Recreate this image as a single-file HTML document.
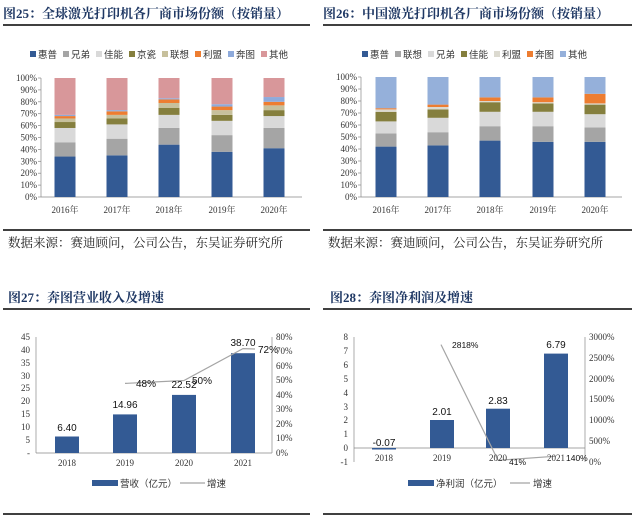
<!DOCTYPE html>
<html><head><meta charset="utf-8"><style>
html,body{margin:0;padding:0;background:#fff;width:640px;height:521px;overflow:hidden}
svg{display:block}
.t{font-family:"Liberation Serif","Noto Serif CJK SC",serif;font-weight:bold;font-size:13px;fill:#1f3864}
.s{font-family:"Liberation Serif","Noto Serif CJK SC",serif;font-size:12.5px;fill:#222}
.a{font-family:"Liberation Serif","Noto Serif CJK SC",serif;font-size:9px;fill:#333}
.l{font-family:"Liberation Sans","Noto Sans CJK SC",sans-serif;font-size:9.5px;fill:#333}
.v{font-family:"Liberation Sans",sans-serif;font-size:10px;fill:#111}
</style></head><body>
<svg width="640" height="521" viewBox="0 0 640 521" xmlns="http://www.w3.org/2000/svg">
<!-- Titles -->
<text x="3" y="18" class="t">图25：全球激光打印机各厂商市场份额（按销量）</text>
<line x1="3" y1="25" x2="310" y2="25" stroke="#000" stroke-width="1.5"/>
<text x="323" y="18" class="t">图26：中国激光打印机各厂商市场份额（按销量）</text>
<line x1="323" y1="25" x2="632" y2="25" stroke="#000" stroke-width="1.5"/>
<line x1="3" y1="230" x2="310" y2="230" stroke="#000" stroke-width="1.5"/>
<line x1="323" y1="230" x2="632" y2="230" stroke="#000" stroke-width="1.5"/>
<text x="8" y="247" class="s">数据来源：赛迪顾问，公司公告，东吴证券研究所</text>
<text x="328" y="247" class="s">数据来源：赛迪顾问，公司公告，东吴证券研究所</text>

<text x="8" y="302" class="t">图27：奔图营业收入及增速</text>
<line x1="3" y1="309" x2="310" y2="309" stroke="#000" stroke-width="1.5"/>
<text x="330" y="302" class="t">图28：奔图净利润及增速</text>
<line x1="323" y1="309" x2="632" y2="309" stroke="#000" stroke-width="1.5"/>
<line x1="3" y1="514" x2="310" y2="514" stroke="#000" stroke-width="1.5"/>
<line x1="323" y1="514" x2="632" y2="514" stroke="#000" stroke-width="1.5"/>

<!-- Chart 25 -->
<g id="c25"></g>
<g id="c26"></g>
<script>
const NS="http://www.w3.org/2000/svg";
function el(p,tag,attrs,txt){const e=document.createElementNS(NS,tag);for(const k in attrs)e.setAttribute(k,attrs[k]);if(txt!==undefined)e.textContent=txt;p.appendChild(e);return e;}
function stack(gid,ox,top,bot,centers,data,colors,names,legX){
 const g=document.getElementById(gid);const h=bot-top;
 for(let i=0;i<=10;i++){const y=bot-h*i/10;el(g,'text',{x:ox+37,y:y+3,'text-anchor':'end',class:'a'},(i*10)+'%');el(g,'line',{x1:ox+38,y1:y,x2:ox+41,y2:y,stroke:'#888','stroke-width':0.7});}
 el(g,'line',{x1:ox+41,y1:top,x2:ox+41,y2:bot,stroke:'#888','stroke-width':0.7});
 el(g,'line',{x1:ox+41,y1:bot,x2:ox+302,y2:bot,stroke:'#888','stroke-width':0.7});
 const yrs=['2016年','2017年','2018年','2019年','2020年'];
 data.forEach((cum,j)=>{let prev=0;const full=cum.concat([100]);full.forEach((c,k)=>{el(g,'rect',{x:centers[j]-10.5,y:bot-h*c/100,width:21,height:h*(c-prev)/100,fill:colors[k]});prev=c;});
  el(g,'text',{x:centers[j],y:bot+16,'text-anchor':'middle',class:'a'},yrs[j]);});
 let x=legX;names.forEach((n,k)=>{el(g,'rect',{x:x,y:51,width:6,height:6,fill:colors[k]});el(g,'text',{x:x+8,y:58,class:'l'},n);x+=n.length*10+13;});
}
stack('c25',0,78,197,[65,117,169,222,274],
 [[34,46,58,63,66,68,69],[35,49,61,66,69,72,73],[44,58,69,75,79,82,83],[38,52,64,69,73,76,78],[41,58,68,73,77,80,84]],
 ['#335a94','#a5a5a5','#d9d9d9','#857f3e','#c7c09c','#ed7d31','#8eaadb','#d8979a'],
 ['惠普','兄弟','佳能','京瓷','联想','利盟','奔图','其他'],30);
stack('c26',320,77,197,[386,438,490,543,595],
 [[42,53,63,71,73,74],[43,54,66,73,75,77],[47,59,71,79,80,83],[46,59,71,78,79,83],[46,58,69,77,78,86]],
 ['#335a94','#a5a5a5','#d9d9d9','#857f3e','#dcdad0','#ed7d31','#95b0da'],
 ['惠普','联想','兄弟','佳能','利盟','奔图','其他'],362);
</script>

<!-- Chart 27 -->
<g>
<line x1="36" y1="337" x2="36" y2="453" stroke="#888" stroke-width="0.7"/>
<line x1="36" y1="453" x2="272" y2="453" stroke="#888" stroke-width="0.7"/>
<line x1="272" y1="337" x2="272" y2="453" stroke="#888" stroke-width="0.7"/>
<g class="a" text-anchor="end">
<text x="30" y="340">45</text><text x="30" y="353">40</text><text x="30" y="366">35</text><text x="30" y="379">30</text><text x="30" y="391">25</text><text x="30" y="404">20</text><text x="30" y="417">15</text><text x="30" y="430">10</text><text x="30" y="443">5</text><text x="30" y="456">-</text>
</g>
<g class="a">
<text x="276" y="340">80%</text><text x="276" y="354">70%</text><text x="276" y="369">60%</text><text x="276" y="383">50%</text><text x="276" y="398">40%</text><text x="276" y="412">30%</text><text x="276" y="427">20%</text><text x="276" y="441">10%</text><text x="276" y="456">0%</text>
</g>
<rect x="55" y="436.5" width="24" height="16.5" fill="#335a94"/>
<rect x="113" y="414.4" width="24" height="38.6" fill="#335a94"/>
<rect x="172" y="394.9" width="24" height="58.1" fill="#335a94"/>
<rect x="231" y="353.2" width="24" height="99.8" fill="#335a94"/>
<polyline points="125,383.4 184,380.5 243,348.6 255,349" fill="none" stroke="#a5a5a5" stroke-width="1.2"/>
<g class="v" text-anchor="middle">
<text x="67" y="431">6.40</text><text x="125" y="408">14.96</text><text x="184" y="388">22.52</text><text x="243" y="346">38.70</text>
</g>
<g class="v"><text x="136" y="387">48%</text><text x="192" y="384">50%</text><text x="258" y="353">72%</text></g>
<g class="a" text-anchor="middle"><text x="67" y="466">2018</text><text x="125" y="466">2019</text><text x="184" y="466">2020</text><text x="243" y="466">2021</text></g>
<rect x="92" y="480" width="26" height="6" fill="#335a94"/>
<text x="120" y="487" class="l">营收（亿元）</text>
<line x1="180" y1="483" x2="205" y2="483" stroke="#a5a5a5" stroke-width="1.2"/>
<text x="207" y="487" class="l">增速</text>
</g>

<!-- Chart 28 -->
<g>
<line x1="354" y1="337" x2="354" y2="462" stroke="#888" stroke-width="0.7"/>
<line x1="354" y1="448" x2="585" y2="448" stroke="#888" stroke-width="0.7"/>
<line x1="585" y1="337" x2="585" y2="462" stroke="#888" stroke-width="0.7"/>
<g class="a" text-anchor="end">
<text x="348" y="340">8</text><text x="348" y="354">7</text><text x="348" y="368">6</text><text x="348" y="382">5</text><text x="348" y="396">4</text><text x="348" y="410">3</text><text x="348" y="423">2</text><text x="348" y="437">1</text><text x="348" y="451">0</text><text x="348" y="465">-1</text>
</g>
<g class="a">
<text x="589" y="340">3000%</text><text x="589" y="361">2500%</text><text x="589" y="382">2000%</text><text x="589" y="402">1500%</text><text x="589" y="423">1000%</text><text x="589" y="444">500%</text><text x="589" y="465">0%</text>
</g>
<rect x="372" y="448" width="24" height="1.5" fill="#335a94"/>
<rect x="430" y="420" width="24" height="28" fill="#335a94"/>
<rect x="486" y="408.7" width="24" height="39.3" fill="#335a94"/>
<rect x="544" y="353.6" width="24" height="94.4" fill="#335a94"/>
<polyline points="441,344.6 498,460.3 556,456.2" fill="none" stroke="#a5a5a5" stroke-width="1.2"/>
<g class="v" text-anchor="middle">
<text x="384" y="446">-0.07</text><text x="442" y="415">2.01</text><text x="498" y="404">2.83</text><text x="556" y="348">6.79</text>
</g>
<g class="v" style="font-size:8.5px"><text x="452" y="348">2818%</text><text x="509" y="465">41%</text><text x="566" y="461">140%</text></g>
<g class="a" text-anchor="middle"><text x="384" y="461">2018</text><text x="442" y="461">2019</text><text x="498" y="461">2020</text><text x="556" y="461">2021</text></g>
<rect x="408" y="480" width="26" height="6" fill="#335a94"/>
<text x="436" y="487" class="l">净利润（亿元）</text>
<line x1="510" y1="483" x2="530" y2="483" stroke="#a5a5a5" stroke-width="1.2"/>
<text x="533" y="487" class="l">增速</text>
</g>
</svg>
</body></html>
